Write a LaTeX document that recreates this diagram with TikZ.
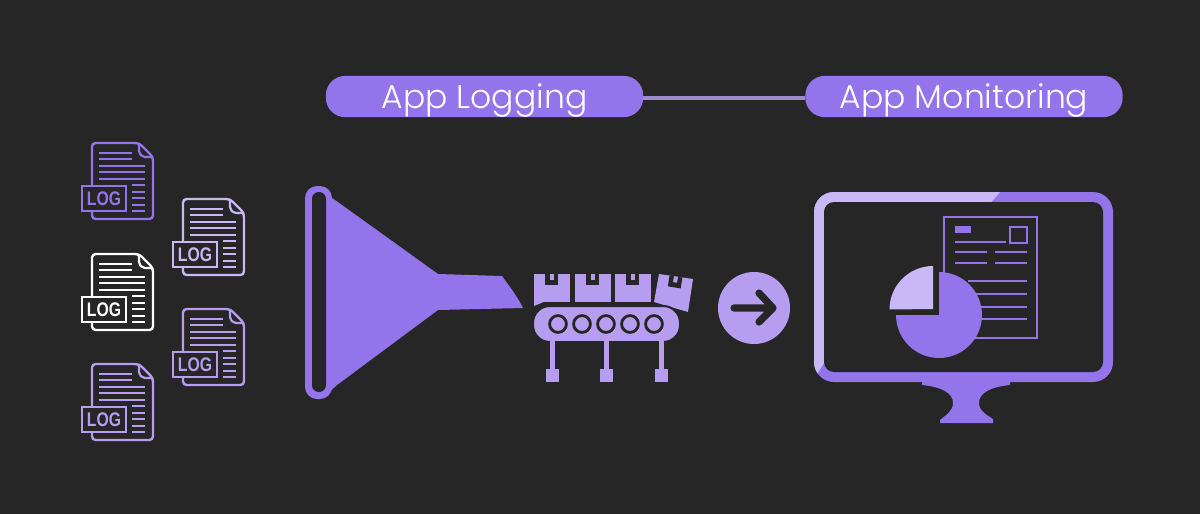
\documentclass[tikz,border=0pt]{standalone}
\usepackage{fontspec}
\setmainfont{Poppins}[UprightFont=* Light]
\newfontfamily\logfont{Liberation Sans}
\usetikzlibrary{positioning}

\definecolor{darkBg}{HTML}{262626}
\definecolor{mainPurple}{HTML}{9374EB}
\definecolor{midPurple}{HTML}{B69DEF}
\definecolor{softPurple}{HTML}{C9B8F6}

\tikzset{
	logdoc/.pic={
		\draw[line width=0.06cm, rounded corners=0.09cm] (0,0) -- (47,0) -- (61,14) -- (61,76) -- (0,76) -- cycle;
		\draw[line width=0.055cm, rounded corners=0.05cm] (47,0) -- (47,10) -- (51,14) -- (61,14);
		% text lines of the sheet
		\foreach \ly in {10,16} { \draw[line width=0.06cm] (7,\ly) -- (40,\ly); }
		\foreach \ly in {23,29,36} { \draw[line width=0.06cm] (7,\ly) -- (53,\ly); }
		\foreach \ly in {42,49,55,62,68} { \draw[line width=0.06cm] (40,\ly) -- (53,\ly); }
		\node[fill=darkBg, draw, line width=0.06cm, minimum width=1.09cm, minimum height=0.62cm, inner sep=0pt] (-tag) at (12,55.5) {};
		\node[font=\logfont\bfseries\fontsize{14}{14}\selectfont, xscale=0.8, transform shape, inner sep=0pt] (-label) at (-tag.center) {LOG};
	},
	boxnotch/.pic={
		\fill[darkBg] (-6.5,0) rectangle (6.5,11);
		\fill[midPurple] (-2,0) rectangle (2,6);
	}
}

\begin{document}
\begin{tikzpicture}[x=0.025cm, y=-0.025cm,
		pill/.style={
				fill=mainPurple, rounded corners=0.48cm, text=white,
				minimum width=7.93cm, minimum height=1.03cm, inner sep=0pt,
				text height=0.66cm, text depth=0.085cm,
				font=\fontsize{23.5}{26}\selectfont
			},
		linkline/.style={line width=0.1cm, color=midPurple!85!darkBg},
		sheetline/.style={line width=0.05cm, color=mainPurple}
	]

	\useasboundingbox[fill=darkBg] (0,0) rectangle (1200,514);

	% Header
	\node[pill] (logging) at (484.5,96.5) {App Logging};
	\node[pill] (monitoring) at (964,96.5) {App Monitoring};
	\draw[linkline] ([yshift=-0.03cm]logging.east) -- ([yshift=-0.03cm]monitoring.west);

	% Log files
	\pic (doc1) [color=mainPurple] at (92,143) {logdoc};
	\pic (doc2) [color=softPurple] at (183,199) {logdoc};
	\pic (doc3) [color=white] at (92,254) {logdoc};
	\pic (doc4) [color=midPurple] at (183,309) {logdoc};
	\pic (doc5) [color=midPurple] at (92,364) {logdoc};

	% Funnel
	\fill[mainPurple] (335,200) -- (438,274) -- (502,276)
		.. controls (510,287) and (517,296) .. (523,308)
		-- (438,310) -- (337,385) -- (325,396) -- (318,190) -- cycle;
	\fill[mainPurple, rounded corners=0.3cm] (305,186) rectangle (332,399);
	\fill[darkBg, rounded corners=0.17cm] (312,192) rectangle (326,392);

	% Conveyor
	\foreach \bx in {534,575,615} {
			\fill[midPurple] (\bx,274) rectangle ++(35.5,28);
			\pic at (\bx+17.7,274) {boxnotch};
		}
	\fill[midPurple] (534,301) -- (546,301) -- (534,306) -- cycle;
	\fill[midPurple] (659,274) -- (693,279) -- (688,312) -- (654,302) -- cycle;
	\pic[rotate=-9] at (676,276.5) {boxnotch};
	\fill[midPurple, draw=darkBg, line width=0.05cm, rounded corners=0.42cm] (533,306) rectangle (680,342);
	\foreach \rx in {558,582,606,630,654} {
			\draw[darkBg, line width=0.07cm] (\rx,324) circle[radius=8.4];
		}
	\foreach \lx in {552,606,661} {
			\fill[midPurple] (\lx-2.5,341) rectangle (\lx+2.5,369);
			\fill[midPurple] (\lx-6.5,369) rectangle (\lx+6.5,382);
		}

	% Arrow badge
	\fill[midPurple] (754,308) circle[radius=36];
	\draw[darkBg, line width=0.18cm, line cap=round, line join=round] (734,308) -- (772,308) (759,293) -- (773,308) -- (759,322);

	% Monitor
	\fill[mainPurple] (922,382) -- (1010,382) -- (1010,385)
		.. controls (990,387) and (979,393) .. (979,403)
		.. controls (979,411) and (987,415) .. (993,419)
		-- (993,423) -- (940,423) -- (940,420)
		.. controls (946,415) and (953,411) .. (953,403)
		.. controls (953,393) and (942,387) .. (922,385) -- cycle;
	\fill[mainPurple, rounded corners=0.5cm] (814,192) rectangle (1113,382);
	\begin{scope}
		\clip (800,180) -- (1011,180) -- (985,209) -- (830,353) -- (810,386) -- (800,386) -- cycle;
		\fill[softPurple, rounded corners=0.5cm] (814,192) rectangle (1113,382);
	\end{scope}
	\fill[darkBg, rounded corners=0.25cm] (824,202) rectangle (1103,372);

	% Report sheet
	\draw[sheetline] (944,217) rectangle (1037,338);
	\fill[mainPurple] (955,226) rectangle (971,233);
	\draw[sheetline, line width=0.06cm] (1010,227) rectangle (1027,243);
	\draw[sheetline] (955,242) -- (1006,242);
	\foreach \ly in {252,263} {
			\draw[sheetline] (955,\ly) -- (987,\ly);
			\draw[sheetline] (995,\ly) -- (1027,\ly);
		}
	\draw[sheetline] (968,281) -- (1027,281);
	\foreach \ly in {294,307,319} {
			\draw[sheetline] (975,\ly) -- (1027,\ly);
		}

	% Pie chart
	\fill[mainPurple] (939,315) -- (939,272) arc[start angle=-90, end angle=180, radius=43] -- cycle;
	\fill[softPurple] (933,309) -- (933,266) arc[start angle=-90, end angle=-180, radius=43.5] -- cycle;
\end{tikzpicture}
\end{document}
